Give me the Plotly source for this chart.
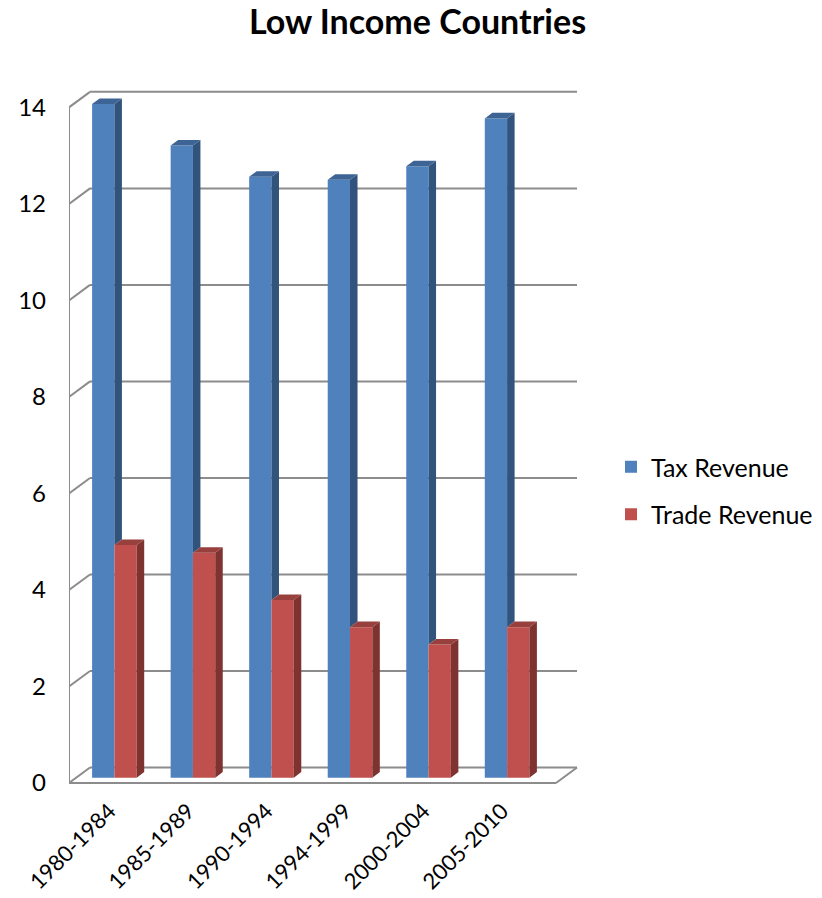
import plotly.graph_objects as go

# ---------------- data ----------------
categories = ["1980-1984", "1985-1989", "1990-1994", "1994-1999", "2000-2004", "2005-2010"]
tax_revenue = [13.96, 13.10, 12.45, 12.39, 12.67, 13.66]
trade_revenue = [4.82, 4.66, 3.68, 3.12, 2.76, 3.12]
y_ticks = [0, 2, 4, 6, 8, 10, 12, 14]

# ---------------- styling / geometry ----------------
OFF = 0                      # page body margin removed via post_script
W, H = 822, 898
PX_X = 78.54                 # pixels per category step
PX_Y = 48.26                 # pixels per value unit
CX0 = 114.4                  # page x of first category centre
Y0 = 783.0                   # page y of front floor edge
plot_l, plot_r, plot_t, plot_b = 69, 582, 80, 792   # page pixels

def ux(px):
    return (px - CX0) / PX_X

def uy(px):
    return (Y0 - px) / PX_Y

bar_w = 22.3 / PX_X
depth_dx, depth_dy = 21 / PX_X, 15.5 / PX_Y      # floor / wall depth
bar_base = 5.3 / PX_Y                             # bars sit inside the floor depth
side_dx, side_dy = 7.5 / PX_X, 5.6 / PX_Y         # bar depth
x_front = ux(plot_l)
x_back_end = ux(577)

BLUE, BLUE_SIDE, BLUE_TOP = "#4F81BD", "#31537C", "#3D6494"
RED, RED_SIDE, RED_TOP = "#C0504D", "#7E3331", "#97403D"
GRID = "#8C8C8C"
FONT = "Lato, 'Open Sans', sans-serif"

idx = list(range(len(categories)))

fig = go.Figure()

# front faces of bars
fig.add_trace(go.Bar(x=idx, y=tax_revenue, base=bar_base, offset=-bar_w, width=bar_w,
                     marker=dict(color=BLUE, line=dict(width=0)), name="Tax Revenue",
                     legendgroup="tax"))
fig.add_trace(go.Bar(x=idx, y=trade_revenue, base=bar_base, offset=0, width=bar_w,
                     marker=dict(color=RED, line=dict(width=0)), name="Trade Revenue",
                     legendgroup="trade"))

def polys(quads):
    xs, ys = [], []
    for q in quads:
        for (a, b) in q:
            xs.append(a); ys.append(b)
        xs.append(q[0][0]); ys.append(q[0][1])
        xs.append(None); ys.append(None)
    return xs, ys

blue_side, blue_top, red_side, red_top = [], [], [], []
for i, (t, r) in enumerate(zip(tax_revenue, trade_revenue)):
    bt = bar_base + t
    rt = bar_base + r
    xl_b = i - bar_w
    xr_b = i
    xr_r = i + bar_w
    # blue side visible above red bar
    blue_side.append([(xr_b, bt), (xr_b + side_dx, bt + side_dy),
                      (xr_b + side_dx, rt + side_dy), (xr_b, rt)])
    blue_top.append([(xl_b, bt), (xr_b, bt), (xr_b + side_dx, bt + side_dy),
                     (xl_b + side_dx, bt + side_dy)])
    red_side.append([(xr_r, rt), (xr_r + side_dx, rt + side_dy),
                     (xr_r + side_dx, bar_base + side_dy), (xr_r, bar_base)])
    red_top.append([(xr_b, rt), (xr_r, rt), (xr_r + side_dx, rt + side_dy),
                    (xr_b + side_dx, rt + side_dy)])

for quads, col in [(blue_side, BLUE_SIDE), (blue_top, BLUE_TOP),
                   (red_side, RED_SIDE), (red_top, RED_TOP)]:
    xs, ys = polys(quads)
    fig.add_trace(go.Scatter(x=xs, y=ys, mode="lines", fill="toself", fillcolor=col,
                             line=dict(width=0, color=col), showlegend=False,
                             hoverinfo="skip"))

# walls, floor and gridlines (drawn below the bars)
shapes = []
line = dict(color=GRID, width=2)
shapes.append(dict(type="line", xref="x", yref="y", x0=x_front, y0=0, x1=x_front,
                   y1=max(y_ticks), line=line, layer="below"))
for v in y_ticks:
    shapes.append(dict(type="line", xref="x", yref="y", x0=x_front, y0=v,
                       x1=x_front + depth_dx, y1=v + depth_dy, line=line, layer="below"))
    shapes.append(dict(type="line", xref="x", yref="y", x0=x_front + depth_dx, y0=v + depth_dy,
                       x1=x_back_end, y1=v + depth_dy, line=line, layer="below"))
shapes.append(dict(type="line", xref="x", yref="y", x0=x_front, y0=0,
                   x1=x_back_end - depth_dx, y1=0, line=line, layer="below"))
shapes.append(dict(type="line", xref="x", yref="y", x0=x_back_end - depth_dx, y0=0,
                   x1=x_back_end, y1=depth_dy, line=line, layer="below"))

fig.update_layout(
    width=W, height=H,
    autosize=False,
    margin=dict(l=plot_l - OFF, r=W - (plot_r - OFF), t=plot_t - OFF,
                b=H - (plot_b - OFF), pad=0),
    paper_bgcolor="white", plot_bgcolor="white",
    barmode="overlay",
    shapes=shapes,
    title=dict(text="<b>Low Income Countries</b>", x=(417.5 - OFF) / W, xref="container",
               xanchor="center", y=1 - (22 - OFF) / H, yref="container", yanchor="middle",
               font=dict(family=FONT, size=34, color="black")),
    font=dict(family=FONT, color="black"),
    legend=dict(x=(611 - OFF) / W, xref="container", xanchor="left",
                y=1 - (444 - OFF) / H, yref="container",
                yanchor="top", font=dict(family=FONT, size=25, color="black"),
                traceorder="grouped", tracegroupgap=12, itemwidth=30,
                bgcolor="rgba(0,0,0,0)"),
    showlegend=True,
)
fig.update_xaxes(range=[ux(plot_l), ux(plot_r)], tickvals=idx, ticktext=categories,
                 tickangle=-45, showgrid=False, zeroline=False, showline=False,
                 ticks="", tickfont=dict(family=FONT, size=22, color="black"),
                 ticklabelstandoff=1, ticklabelshift=-5, automargin=False, fixedrange=True)
fig.update_yaxes(range=[uy(plot_b), uy(plot_t)], tickvals=y_ticks,
                 showgrid=False, zeroline=False, showline=False, ticks="",
                 tickfont=dict(family=FONT, size=24, color="black"),
                 ticklabelstandoff=22, automargin=False, fixedrange=True)

fig.write_html("out.html",
               config={"displayModeBar": False, "staticPlot": False},
               post_script="document.body.style.margin='0px';document.body.style.overflow='hidden';")
